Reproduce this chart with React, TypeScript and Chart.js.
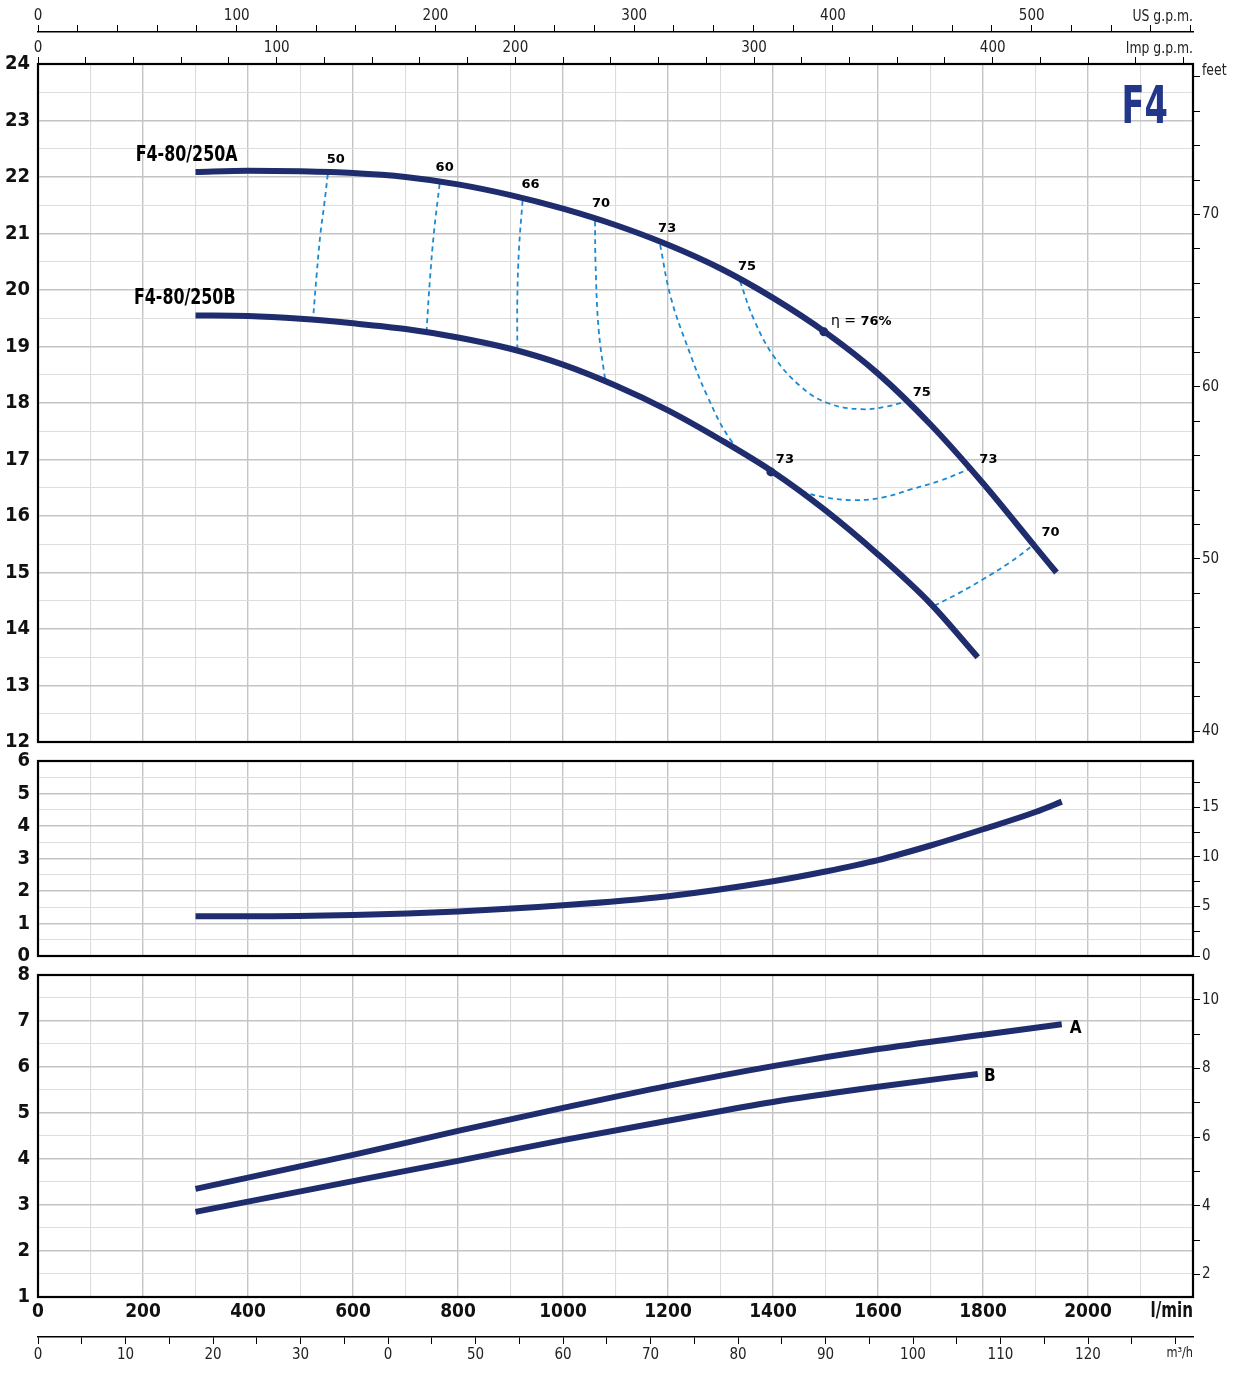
import React, { useEffect, useRef } from 'react';
import { Chart, registerables } from 'chart.js';

Chart.register(...registerables);

// ---------------- data ----------------
// Head curves (l/min, m)
const flowA = [300, 400, 500, 600, 700, 800, 900, 1000, 1100, 1200, 1300, 1400, 1500, 1600, 1700, 1800, 1900, 1940];
const headA = [22.09, 22.11, 22.1, 22.07, 22.0, 21.87, 21.68, 21.44, 21.15, 20.8, 20.38, 19.86, 19.25, 18.52, 17.62, 16.58, 15.45, 15.0];
const flowB = [300, 400, 500, 600, 700, 800, 900, 1000, 1100, 1200, 1300, 1400, 1500, 1600, 1700, 1790];
const headB = [19.55, 19.54, 19.49, 19.41, 19.31, 19.16, 18.96, 18.68, 18.31, 17.87, 17.35, 16.78, 16.1, 15.32, 14.45, 13.5];

// Iso-efficiency lines [l/min, m]
const eff50: number[][] = [[552, 22.05], [545, 21.5], [538, 21.0], [531, 20.3], [524, 19.5]];
const eff60: number[][] = [[765, 21.88], [754, 21.0], [746, 20.12], [740, 19.26]];
const eff66: number[][] = [[923, 21.58], [916, 20.7], [913, 19.82], [913, 18.96]];
const eff70: number[][] = [[1061, 21.22], [1062, 20.47], [1068, 19.29], [1081, 18.36]];
const eff73: number[][] = [[1185, 20.8], [1205, 19.88], [1237, 19.0], [1275, 18.12], [1319, 17.35], [1357, 17.02], [1410, 16.71], [1453, 16.45], [1500, 16.33], [1555, 16.28], [1610, 16.33], [1662, 16.47], [1720, 16.63], [1776, 16.84]];
const eff75: number[][] = [[1337, 20.16], [1364, 19.47], [1402, 18.82], [1453, 18.29], [1504, 18.0], [1567, 17.89], [1618, 17.94], [1653, 18.03]];
const eff70b: number[][] = [[1707, 14.41], [1755, 14.64], [1800, 14.88], [1850, 15.17], [1898, 15.5]];
const dot76: number[] = [1497, 19.26];
const dot73: number[] = [1396, 16.78];

// NPSH (l/min, m)
const flowNpsh = [300, 400, 600, 800, 1000, 1200, 1400, 1500, 1600, 1700, 1800, 1900, 1950];
const npsh = [1.22, 1.22, 1.26, 1.37, 1.56, 1.84, 2.3, 2.6, 2.95, 3.4, 3.9, 4.43, 4.75];

// Power (l/min, kW)
const flowPA = [300, 600, 800, 1000, 1200, 1400, 1600, 1800, 1950];
const powerA = [3.35, 4.09, 4.61, 5.11, 5.59, 6.02, 6.39, 6.7, 6.93];
const flowPB = [300, 600, 800, 1000, 1200, 1400, 1600, 1790];
const powerB = [2.85, 3.52, 3.96, 4.41, 4.83, 5.24, 5.57, 5.85];

// Axes ticks
const lpmGrid = [0, 100, 200, 300, 400, 500, 600, 700, 800, 900, 1000, 1100, 1200, 1300, 1400, 1500, 1600, 1700, 1800, 1900, 2000, 2100, 2200];
const lpmLabels = [0, 200, 400, 600, 800, 1000, 1200, 1400, 1600, 1800, 2000];
const usGpmTicks = [0, 20, 40, 60, 80, 100, 120, 140, 160, 180, 200, 220, 240, 260, 280, 300, 320, 340, 360, 380, 400, 420, 440, 460, 480, 500, 520, 540, 560, 580];
const usGpmLabels = [0, 100, 200, 300, 400, 500];
const impGpmTicks = [0, 20, 40, 60, 80, 100, 120, 140, 160, 180, 200, 220, 240, 260, 280, 300, 320, 340, 360, 380, 400, 420, 440, 460, 480];
const impGpmLabels = [0, 100, 200, 300, 400];
const m3hTicks = [0, 5, 10, 15, 20, 25, 30, 35, 40, 45, 50, 55, 60, 65, 70, 75, 80, 85, 90, 95, 100, 105, 110, 115, 120, 125, 130];
const m3hLabelValues = [0, 10, 20, 30, 40, 50, 60, 70, 80, 90, 100, 110, 120];
const m3hLabelTexts = ['0', '10', '20', '30', '0', '50', '60', '70', '80', '90', '100', '110', '120'];
const headGrid = [12, 12.5, 13, 13.5, 14, 14.5, 15, 15.5, 16, 16.5, 17, 17.5, 18, 18.5, 19, 19.5, 20, 20.5, 21, 21.5, 22, 22.5, 23, 23.5, 24];
const npshGrid = [0, 0.5, 1, 1.5, 2, 2.5, 3, 3.5, 4, 4.5, 5, 5.5, 6];
const powerGrid = [1, 1.5, 2, 2.5, 3, 3.5, 4, 4.5, 5, 5.5, 6, 6.5, 7, 7.5, 8];
const feetTopTicks = [40, 42, 44, 46, 48, 50, 52, 54, 56, 58, 60, 62, 64, 66, 68, 70, 72, 74, 76, 78];
const feetTopLabels = [40, 50, 60, 70];
const feetUnitTick = 78;
const feetMidTicks = [0, 2.5, 5, 7.5, 10, 12.5, 15, 17.5];
const feetMidLabels = [0, 5, 10, 15];
const hpTicks = [2, 3, 4, 5, 6, 7, 8, 9, 10];
const hpLabels = [2, 4, 6, 8, 10];

// ---------------- style ----------------
const NARROW = "'Liberation Sans Narrow', 'Arial Narrow', 'DejaVu Sans Condensed', sans-serif";
const WIDE = "'DejaVu Sans', 'Liberation Sans', sans-serif";
const NAVY = '#1f2d6e';
const DASH = '#1b8ad2';
const M_TO_FT = 1 / 0.3048;
const KW_TO_HP = 1.34102;
const LPM_PER_USGPM = 3.785411784;
const LPM_PER_IMPGPM = 4.54609;
const LPM_PER_M3H = 1000 / 60;
const X_MAX = 2200;

const toXY = (xs: number[], ys: number[]) => xs.map((x, i) => ({ x, y: ys[i] }));
const pairs = (p: number[][]) => p.map(([x, y]) => ({ x, y }));
const setTicks = (vals: number[]) => (s: any) => {
  s.ticks = vals.map((v) => ({ value: v }));
};
const noPad = (s: any) => {
  s.paddingTop = 0;
  s.paddingBottom = 0;
  s.paddingLeft = 0;
  s.paddingRight = 0;
};

const xGridColor = (ctx: any) => (ctx.tick && ctx.tick.value % 200 === 0 ? '#c4c4c4' : '#dcdcdc');
const xGridWidth = (ctx: any) => (ctx.tick && ctx.tick.value % 200 === 0 ? 1.4 : 1.1);
const yGridColor = (ctx: any) => (ctx.tick && Number.isInteger(ctx.tick.value) ? '#c4c4c4' : '#dedede');
const yGridWidth = (ctx: any) => (ctx.tick && Number.isInteger(ctx.tick.value) ? 1.5 : 1.1);

const mainLine = (data: any[]) => ({
  data,
  showLine: true,
  borderColor: NAVY,
  borderWidth: 6,
  pointRadius: 0,
  cubicInterpolationMode: 'monotone' as const,
  borderCapStyle: 'butt' as const,
});
const dashLine = (data: any[]) => ({
  data,
  showLine: true,
  borderColor: DASH,
  borderWidth: 1.8,
  borderDash: [5, 4],
  pointRadius: 0,
  tension: 0.4,
});
const dotSet = (p: number[]) => ({
  data: [{ x: p[0], y: p[1] }],
  showLine: false,
  pointRadius: 4.5,
  pointBackgroundColor: NAVY,
  pointBorderWidth: 0,
});

const xGridScale = (extra: any = {}, height = 0) => ({
  type: 'linear',
  position: 'bottom',
  min: 0,
  max: X_MAX,
  bounds: 'data',
  afterBuildTicks: setTicks(lpmGrid),
  ticks: { display: false, autoSkip: false },
  grid: { color: xGridColor, lineWidth: xGridWidth, drawTicks: false },
  border: { display: false },
  afterFit: (s: any) => {
    s.height = height;
    noPad(s);
  },
  ...extra,
});

const leftScale = (min: number, max: number, ticks: number[]) => ({
  type: 'linear',
  position: 'left',
  min,
  max,
  bounds: 'data',
  afterBuildTicks: setTicks(ticks),
  ticks: {
    autoSkip: false,
    callback: (v: number) => (Number.isInteger(v) ? String(v) : ''),
    font: { family: NARROW, size: 20, weight: 'bold' },
    color: '#111',
    padding: 8,
  },
  grid: { color: yGridColor, lineWidth: yGridWidth, drawTicks: false },
  border: { display: false },
  afterFit: (s: any) => {
    s.width = 38;
    noPad(s);
  },
});

const rightScale = (min: number, max: number, ticks: number[], label: (v: number) => string) => ({
  type: 'linear',
  position: 'right',
  min,
  max,
  bounds: 'data',
  afterBuildTicks: setTicks(ticks),
  ticks: {
    autoSkip: false,
    callback: label,
    font: { family: NARROW, size: 15 },
    color: '#222',
    padding: 2,
  },
  grid: { drawOnChartArea: false, drawTicks: true, tickLength: 7, color: '#000', tickColor: '#000', lineWidth: 1 },
  border: { display: false },
  afterFit: (s: any) => {
    s.width = 41;
    noPad(s);
  },
});

const axisScale = (pos: 'top' | 'bottom', weight: number, max: number, ticks: number[], label: (v: number) => string, height: number, pad: number) => ({
  type: 'linear',
  position: pos,
  weight,
  min: 0,
  max,
  bounds: 'data',
  afterBuildTicks: setTicks(ticks),
  ticks: {
    autoSkip: false,
    maxRotation: 0,
    callback: label,
    font: { family: NARROW, size: 15 },
    color: '#222',
    padding: pad,
  },
  grid: { drawOnChartArea: false, drawTicks: true, tickLength: 7, color: '#000', tickColor: '#000', lineWidth: 1 },
  border: { display: true, color: '#000', width: 1.5 },
  afterFit: (s: any) => {
    s.height = height;
    noPad(s);
  },
});

const framePlugin = {
  id: 'frame',
  afterDraw(chart: any) {
    const { ctx, chartArea: a } = chart;
    ctx.save();
    ctx.strokeStyle = '#000';
    ctx.lineWidth = 2.2;
    ctx.strokeRect(a.left, a.top, a.right - a.left, a.bottom - a.top);
    ctx.restore();
  },
};

const txt = (ctx: CanvasRenderingContext2D, s: string, x: number, y: number, font: string, align: CanvasTextAlign = 'center', color = '#000', sx = 1) => {
  ctx.save();
  ctx.font = font;
  ctx.textAlign = align;
  ctx.textBaseline = 'middle';
  ctx.fillStyle = color;
  ctx.translate(x, y);
  ctx.scale(sx, 1);
  ctx.fillText(s, 0, 0);
  ctx.restore();
};

const EFF_FONT = `bold 13px ${WIDE}`;

const headTextPlugin = {
  id: 'headText',
  afterDatasetsDraw(chart: any) {
    const { ctx, scales, chartArea } = chart;
    const px = (p: number[]) => [scales.x.getPixelForValue(p[0]), scales.y.getPixelForValue(p[1])];
    ctx.save();
    const labelAt = (p: number[], s: string, dx: number, dy: number) => {
      const [x, y] = px(p);
      txt(ctx, s, x + dx, y + dy, EFF_FONT);
    };
    labelAt(eff50[0], '50', 8, -15);
    labelAt(eff60[0], '60', 5, -16);
    labelAt(eff66[0], '66', 8, -16);
    labelAt(eff70[0], '70', 6, -17);
    labelAt(eff73[0], '73', 7, -16);
    labelAt(eff75[0], '75', 7, -14);
    labelAt(eff75[eff75.length - 1], '75', 16, -9);
    labelAt(eff73[eff73.length - 1], '73', 18, -9);
    labelAt(eff70b[eff70b.length - 1], '70', 16, -12);
    labelAt(dot73, '73', 14, -12);
    const [ex, ey] = px(dot76);
    ctx.font = `14px ${WIDE}`;
    const w = ctx.measureText('η = ').width;
    txt(ctx, 'η = ', ex + 7, ey - 10, `14px ${WIDE}`, 'left');
    txt(ctx, '76%', ex + 7 + w, ey - 10, EFF_FONT, 'left');
    // curve names
    const [ax, ay] = px([flowA[0], headA[0]]);
    txt(ctx, 'F4-80/250A', ax + 42, ay - 16, `bold 21px ${NARROW}`, 'right', '#000', 0.84);
    const [bx, by] = px([flowB[0], headB[0]]);
    txt(ctx, 'F4-80/250B', bx + 40, by - 17, `bold 21px ${NARROW}`, 'right', '#000', 0.84);
    // model
    txt(ctx, 'F4', chartArea.right - 25, chartArea.top + 45, `bold 52px ${NARROW}`, 'right', '#22378a', 0.72);
    ctx.restore();
  },
  afterDraw(chart: any) {
    const { ctx, chartArea, scales } = chart;
    ctx.save();
    txt(ctx, 'US g.p.m.', chartArea.right, scales.xUS.bottom - 15, `15px ${NARROW}`, 'right', '#222', 0.92);
    txt(ctx, 'Imp g.p.m.', chartArea.right, scales.xImp.bottom - 15, `15px ${NARROW}`, 'right', '#222', 0.92);
    txt(ctx, 'feet', chartArea.right + 9, scales.yFt.getPixelForValue(feetUnitTick) - 6, `15px ${NARROW}`, 'left', '#222', 0.92);
    ctx.restore();
  },
};

const powerTextPlugin = {
  id: 'powerText',
  afterDatasetsDraw(chart: any) {
    const { ctx, scales } = chart;
    const px = (x: number, y: number) => [scales.x.getPixelForValue(x), scales.y.getPixelForValue(y)];
    ctx.save();
    const [ax, ay] = px(flowPA[flowPA.length - 1], powerA[powerA.length - 1]);
    txt(ctx, 'A', ax + 14, ay + 4, `bold 17px ${NARROW}`);
    const [bx, by] = px(flowPB[flowPB.length - 1], powerB[powerB.length - 1]);
    txt(ctx, 'B', bx + 12, by + 3, `bold 17px ${NARROW}`);
    ctx.restore();
  },
  afterDraw(chart: any) {
    const { ctx, chartArea, scales } = chart;
    ctx.save();
    txt(ctx, 'l/min', chartArea.right, scales.x.top + 15, `bold 21px ${NARROW}`, 'right', '#111', 0.8);
    txt(ctx, 'm³/h', chartArea.right, scales.xM3.top + 16, `14px ${NARROW}`, 'right', '#222', 0.9);
    ctx.restore();
  },
};

const baseOptions = (padding: any, scales: any) => ({
  responsive: false,
  animation: false,
  layout: { padding },
  plugins: { legend: { display: false }, tooltip: { enabled: false } },
  scales,
});

function configHead(): any {
  return {
    type: 'scatter',
    data: {
      datasets: [
        dotSet(dot76),
        dotSet(dot73),
        mainLine(toXY(flowA, headA)),
        mainLine(toXY(flowB, headB)),
        dashLine(pairs(eff50)),
        dashLine(pairs(eff60)),
        dashLine(pairs(eff66)),
        dashLine(pairs(eff70)),
        dashLine(pairs(eff73)),
        dashLine(pairs(eff75)),
        dashLine(pairs(eff70b)),
      ],
    },
    options: baseOptions({ left: 0, right: 0, top: 0, bottom: 10 }, {
      x: xGridScale(),
      xUS: axisScale('top', 2, X_MAX / LPM_PER_USGPM, usGpmTicks, (v) => (usGpmLabels.includes(v) ? String(v) : ''), 32, 0),
      xImp: axisScale('top', 1, X_MAX / LPM_PER_IMPGPM, impGpmTicks, (v) => (impGpmLabels.includes(v) ? String(v) : ''), 32, 0),
      y: leftScale(12, 24, headGrid),
      yFt: rightScale(12 * M_TO_FT, 24 * M_TO_FT, feetTopTicks, (v) => (feetTopLabels.includes(v) ? String(v) : '')),
    }),
    plugins: [framePlugin, headTextPlugin],
  };
}

function configNpsh(): any {
  return {
    type: 'scatter',
    data: { datasets: [mainLine(toXY(flowNpsh, npsh))] },
    options: baseOptions({ left: 0, right: 0, top: 9, bottom: 10 }, {
      x: xGridScale(),
      y: leftScale(0, 6, npshGrid),
      yFt: rightScale(0, 6 * M_TO_FT, feetMidTicks, (v) => (feetMidLabels.includes(v) ? String(v) : '')),
    }),
    plugins: [framePlugin],
  };
}

function configPower(): any {
  return {
    type: 'scatter',
    data: { datasets: [mainLine(toXY(flowPA, powerA)), mainLine(toXY(flowPB, powerB))] },
    options: baseOptions({ left: 0, right: 0, top: 9, bottom: 19 }, {
      x: xGridScale(
        {
          weight: 1,
          ticks: {
            display: true,
            autoSkip: false,
            maxRotation: 0,
            callback: (v: number) => (lpmLabels.includes(v) ? String(v) : ''),
            font: { family: NARROW, size: 19, weight: 'bold' },
            color: '#111',
            padding: 4,
          },
        },
        40
      ),
      xM3: axisScale('bottom', 2, X_MAX / LPM_PER_M3H, m3hTicks, (v) => {
        const i = m3hLabelValues.indexOf(v);
        return i >= 0 ? m3hLabelTexts[i] : '';
      }, 40, 2),
      y: leftScale(1, 8, powerGrid),
      yHp: rightScale(1 * KW_TO_HP, 8 * KW_TO_HP, hpTicks, (v) => (hpLabels.includes(v) ? String(v) : '')),
    }),
    plugins: [framePlugin, powerTextPlugin],
  };
}

export default function App() {
  const refA = useRef<HTMLCanvasElement>(null);
  const refB = useRef<HTMLCanvasElement>(null);
  const refC = useRef<HTMLCanvasElement>(null);

  useEffect(() => {
    const charts = [
      new Chart(refA.current as HTMLCanvasElement, configHead()),
      new Chart(refB.current as HTMLCanvasElement, configNpsh()),
      new Chart(refC.current as HTMLCanvasElement, configPower()),
    ];
    return () => charts.forEach((c) => c.destroy());
  }, []);

  return (
    <div style={{ position: 'absolute', left: 0, top: 0, width: 1234, height: 1396, background: '#fff' }}>
      <canvas ref={refA} width={1234} height={752} style={{ position: 'absolute', left: 0, top: 0, width: 1234, height: 752 }} />
      <canvas ref={refB} width={1234} height={214} style={{ position: 'absolute', left: 0, top: 752, width: 1234, height: 214 }} />
      <canvas ref={refC} width={1234} height={430} style={{ position: 'absolute', left: 0, top: 966, width: 1234, height: 430 }} />
    </div>
  );
}
